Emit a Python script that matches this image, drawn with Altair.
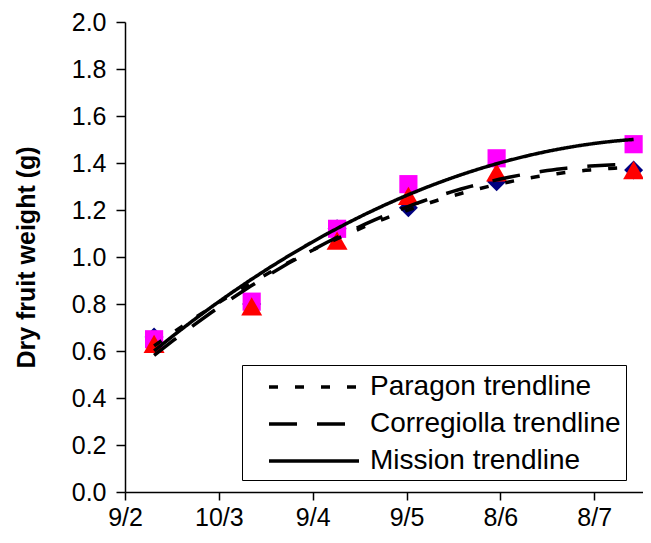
import json
import altair as alt
import pandas as pd

# ---- data ----
x_pos = [0.31, 1.35, 2.26, 3.02, 3.96, 5.42]          # position in axis-tick units
paragon = [0.66, 0.80, 1.12, 1.21, 1.32, 1.37]
corregiolla = [0.63, 0.79, 1.07, 1.26, 1.36, 1.37]
mission = [0.65, 0.81, 1.12, 1.31, 1.42, 1.48]
tick_labels = ["9/2", "10/3", "9/4", "9/5", "8/6", "8/7"]
tick_values = [0, 1, 2, 3, 4, 5]
y_ticks = [0.0, 0.2, 0.4, 0.6, 0.8, 1.0, 1.2, 1.4, 1.6, 1.8, 2.0]
varieties = ["Paragon", "Corregiolla", "Mission"]
trend_labels = ["Paragon trendline", "Corregiolla trendline", "Mission trendline"]

series = {"Paragon": paragon, "Corregiolla": corregiolla, "Mission": mission}
rows = []
for v in varieties:
    for x, y in zip(x_pos, series[v]):
        rows.append({"x": x, "weight": y, "variety": v})
df = pd.DataFrame(rows)

FONT = "Liberation Sans"
x_scale = alt.Scale(domain=[0, 5.52], nice=False, zero=False)
y_scale = alt.Scale(domain=[0, 2], nice=False, zero=True)

x_axis = alt.Axis(
    values=tick_values,
    labelExpr=f"{json.dumps(tick_labels)}[round(datum.value)]",
    title=None, grid=False, tickSize=8, labelPadding=5,
    labelFontSize=25, labelFont=FONT, labelColor="black",
    labelFlush=False, labelOverlap=False,
    domainColor="black", tickColor="black", domainWidth=1.5, tickWidth=1.5,
)
y_axis = alt.Axis(
    values=y_ticks, format=".1f",
    title="Dry fruit weight (g)", titleFontSize=25, titleFontWeight="bold",
    titleFont=FONT, titleColor="black",
    titleX=-99, titleY=235, titleAngle=270, titleBaseline="middle", titleAlign="center",
    grid=False, tickSize=9, labelPadding=10,
    labelFontSize=25, labelFont=FONT, labelColor="black",
    labelFlush=False, labelOverlap=False,
    domainColor="black", tickColor="black", domainWidth=1.5, tickWidth=1.5,
)

X = alt.X("x:Q", scale=x_scale, axis=x_axis)
Y = alt.Y("weight:Q", scale=y_scale, axis=y_axis)

marker_style = {
    "Paragon": dict(shape="diamond", color="#000080", size=360),
    "Mission": dict(shape="square", color="#FF00FF", size=330),
    "Corregiolla": dict(shape="triangle-up", color="#FF0000", size=440),
}
draw_order = ["Paragon", "Mission", "Corregiolla"]

layers = []
for v in draw_order:
    st = marker_style[v]
    layers.append(
        alt.Chart(df)
        .transform_filter(alt.datum.variety == v)
        .mark_point(filled=True, opacity=1, strokeWidth=0,
                    shape=st["shape"], color=st["color"], size=st["size"])
        .encode(x=X, y=Y)
    )

lines = (
    alt.Chart(df)
    .transform_regression("x", "weight", groupby=["variety"], method="poly",
                          order=2, extent=[x_pos[0], x_pos[-1]])
    .transform_calculate(trend="datum.variety + ' trendline'")
    .mark_line(color="black", strokeWidth=3.5)
    .encode(
        x=X, y=Y,
        strokeDash=alt.StrokeDash(
            "trend:N",
            scale=alt.Scale(domain=trend_labels, range=[[9, 17], [28, 20], [1, 0]]),
            legend=alt.Legend(
                title=None, orient="none", legendX=117, legendY=343,
                direction="vertical",
                symbolType="M-3,0H3", symbolSize=900, symbolStrokeWidth=3.5,
                symbolStrokeColor="black", symbolFillColor="transparent",
                symbolOffset=50, labelOffset=39,
                labelFontSize=28, labelFont=FONT, labelColor="black", labelLimit=500,
                strokeColor="black", fillColor="white", padding=5, rowPadding=6,
            ),
        ),
    )
)

chart = (
    alt.layer(*layers, lines)
    .properties(
        width=518, height=470,
        autosize=alt.AutoSizeParams(type="none"),
        padding={"left": 117, "top": 14, "right": 0, "bottom": 43},
        background="white",
    )
    .configure_view(strokeWidth=0)
)

chart.save("out.html", embed_options={"renderer": "svg", "actions": False})
